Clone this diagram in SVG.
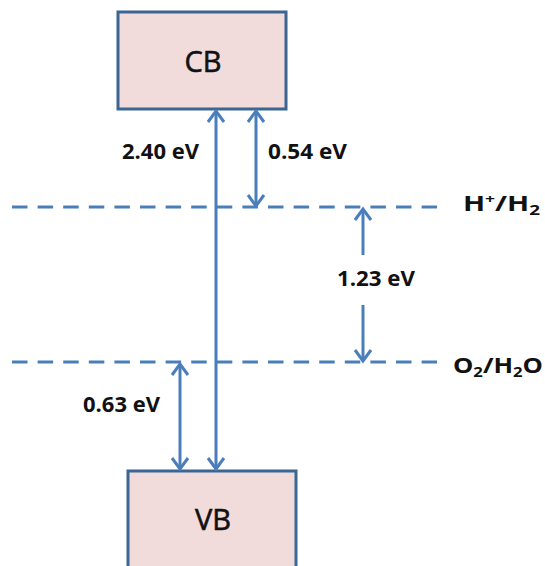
<svg xmlns="http://www.w3.org/2000/svg" width="545" height="566" viewBox="0 0 545 566">
<style>
.box{fill:#f2dcdb;stroke:#3b6592;stroke-width:3}
.band{font-family:"Open Sans","Liberation Sans",sans-serif;font-size:29px;fill:#111;stroke:#111;stroke-width:0.6;text-anchor:middle}
.lbl{font-family:"Open Sans","Liberation Sans",sans-serif;font-weight:bold;font-size:21.5px;fill:#111}
.dash{stroke:#4a7ebb;stroke-width:3;stroke-dasharray:15.5 10.1;fill:none}
.arr{stroke:#4a7ebb;stroke-width:3;fill:none}
</style>
<defs>
<marker id="ah" viewBox="-3 -3 17 22" refX="11" refY="8" markerWidth="17" markerHeight="22" markerUnits="userSpaceOnUse" orient="auto-start-reverse">
<path d="M0,0 L11,8 L0,16" fill="none" stroke="#4a7ebb" stroke-width="3" stroke-linejoin="miter"/>
</marker>
</defs>
<rect width="545" height="566" fill="#fff"/>
<g id="cb">
<rect class="box" x="118" y="12" width="168" height="97"/>
<text class="band" x="203" y="72">CB</text>
</g>
<g id="vb">
<rect class="box" x="128" y="471" width="168" height="110"/>
<text class="band" x="213" y="530">VB</text>
</g>
<g id="levels">
<line class="dash" x1="12" y1="207" x2="437" y2="207"/>
<line class="dash" x1="12" y1="362" x2="437" y2="362"/>
<text id="h" class="lbl" x="463" y="211" font-size="22" textLength="77" lengthAdjust="spacingAndGlyphs">H<tspan font-size="13" dy="-8">+</tspan><tspan dy="8">/H</tspan><tspan font-size="14" dy="4">2</tspan></text>
<text id="o" class="lbl" x="453" y="373" font-size="22" textLength="90" lengthAdjust="spacingAndGlyphs">O<tspan font-size="14" dy="4">2</tspan><tspan dy="-4">/H</tspan><tspan font-size="14" dy="4">2</tspan><tspan dy="-4">O</tspan></text>
</g>
<g id="connectors">
<line class="arr" x1="216" y1="111" x2="216" y2="469" marker-start="url(#ah)" marker-end="url(#ah)"/>
<line class="arr" x1="256" y1="111" x2="256" y2="206" marker-start="url(#ah)" marker-end="url(#ah)"/>
<line class="arr" x1="363" y1="255" x2="363" y2="209" marker-end="url(#ah)"/>
<line class="arr" x1="363" y1="305" x2="363" y2="361" marker-end="url(#ah)"/>
<line class="arr" x1="180" y1="364" x2="180" y2="469" marker-start="url(#ah)" marker-end="url(#ah)"/>
</g>
<g id="labels">
<text class="lbl" x="122" y="159" textLength="77" lengthAdjust="spacingAndGlyphs">2.40 eV</text>
<text class="lbl" x="268" y="159" textLength="79" lengthAdjust="spacingAndGlyphs">0.54 eV</text>
<text class="lbl" x="337" y="286" textLength="78" lengthAdjust="spacingAndGlyphs">1.23 eV</text>
<text class="lbl" x="83" y="412" textLength="77" lengthAdjust="spacingAndGlyphs">0.63 eV</text>
</g>
</svg>
